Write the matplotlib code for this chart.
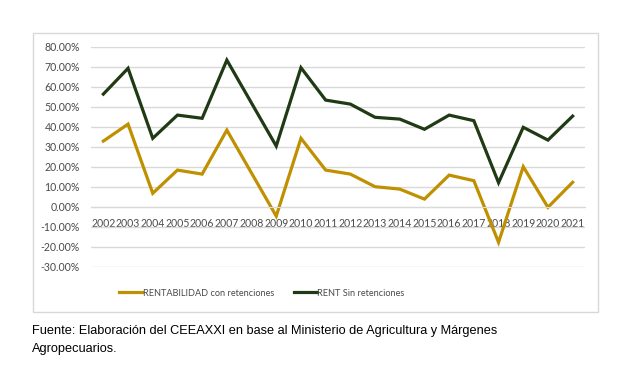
import matplotlib
matplotlib.use('Agg')
import matplotlib.pyplot as plt
from matplotlib.patches import Rectangle
from matplotlib.ticker import FuncFormatter

# ── Data ─────────────────────────────────────────────────────
years = ['2002', '2003', '2004', '2005', '2006', '2007', '2008', '2009', '2010', '2011',
         '2012', '2013', '2014', '2015', '2016', '2017', '2018', '2019', '2020', '2021']
con_ret = [32.8, 41.3, 6.7, 18.3, 16.3, 38.3, 16.8, -4.7, 34.2, 18.3,
           16.3, 10.0, 8.8, 3.8, 15.8, 13.0, -17.8, 20.0, -0.3, 12.2]
sin_ret = [56.3, 69.2, 34.2, 45.8, 44.2, 73.3, 51.8, 30.3, 69.5, 53.3,
           51.3, 44.7, 43.8, 38.7, 45.8, 43.0, 12.0, 39.7, 33.3, 45.3]
label_con = 'RENTABILIDAD con retenciones'
label_sin = 'RENT Sin retenciones'
y_ticks = [-30, -20, -10, 0, 10, 20, 30, 40, 50, 60, 70, 80]

GOLD = '#BF9000'
GREEN = '#1F3A14'
GRID = '#D9D9D9'
TICK = '#4A4A4A'

W, H = 634, 377
fig = plt.figure(figsize=(W / 100, H / 100), dpi=100)
fig.patch.set_facecolor('white')

# chart frame
fig.patches.append(Rectangle((33 / W, 1 - 312 / H), (598 - 33) / W, (312 - 33) / H,
                             transform=fig.transFigure, fill=False,
                             edgecolor=GRID, lw=1))

ax = fig.add_axes([91 / W, 1 - 266.7 / H, (585 - 91) / W, (266.7 - 46.7) / H])
x = list(range(len(years)))
ax.plot(x, con_ret, color=GOLD, lw=2.3, label=label_con, solid_joinstyle='miter')
ax.plot(x, sin_ret, color=GREEN, lw=2.3, label=label_sin, solid_joinstyle='miter')

ax.set_xlim(-0.5, len(years) - 0.5)
ax.set_ylim(-30, 80)
ax.set_yticks(y_ticks)
ax.yaxis.set_major_formatter(FuncFormatter(lambda v, p: f'{v:.2f}%'))
ax.set_xticks(x)
ax.set_xticklabels(years)
ax.grid(axis='y', color=GRID, lw=1)
ax.set_axisbelow(True)
for s in ['top', 'right', 'left']:
    ax.spines[s].set_visible(False)
ax.spines['bottom'].set_position(('data', 0))
ax.spines['bottom'].set_color(GRID)
ax.tick_params(axis='x', length=0, pad=8, labelsize=7.6, labelcolor=TICK)
ax.tick_params(axis='y', length=0, pad=8, labelsize=7.6, labelcolor=TICK)
for t in ax.get_xticklabels() + ax.get_yticklabels():
    t.set_fontfamily('Lato')

fig.legend(loc='center', bbox_to_anchor=(262 / W, 1 - 293 / H), ncol=2,
           frameon=False, handlelength=2.5, handletextpad=0.05, columnspacing=2.2,
           prop={'family': 'Lato', 'size': 6.6}, labelcolor=TICK)

fig.text(32 / W, 1 - 334 / H,
         'Fuente: Elaboración del CEEAXXI en base al Ministerio de Agricultura y Márgenes',
         family='Liberation Sans', fontsize=9.2, va='baseline', ha='left')
fig.text(32 / W, 1 - 352 / H, 'Agropecuarios.',
         family='Liberation Sans', fontsize=9.2, va='baseline', ha='left')

fig.savefig('out.png', dpi=100)
